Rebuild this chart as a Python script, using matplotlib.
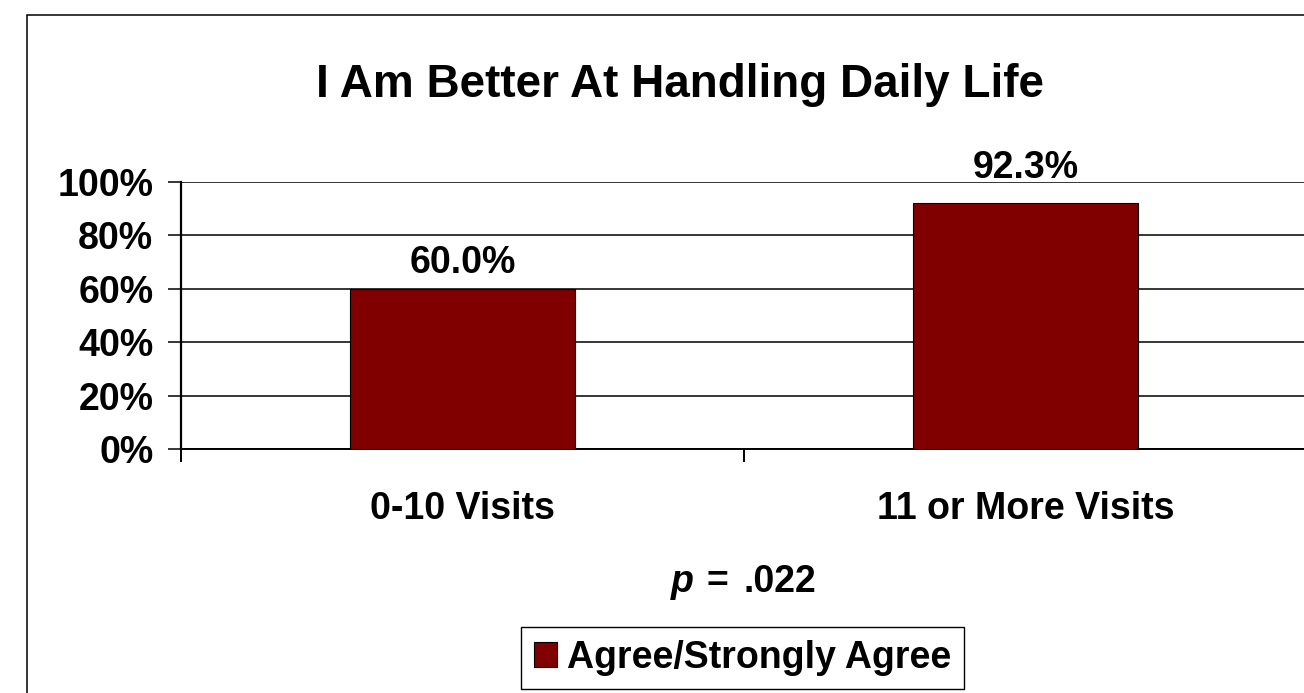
import matplotlib
matplotlib.use("Agg")
import matplotlib.pyplot as plt
from matplotlib.patches import Rectangle, Patch
from matplotlib.ticker import FixedLocator, PercentFormatter

# Survey results
categories = ["0-10 Visits", "11 or More Visits"]
agree_pct = [60.0, 92.3]
series_name = "Agree/Strongly Agree"
title = "I Am Better At Handling Daily Life"
p_value = ".022"
yticks = [0, 20, 40, 60, 80, 100]

BAR_COLOR = "#800000"
FONT = "Liberation Sans"
FS = 27

W, H = 1304, 693
fig = plt.figure(figsize=(W / 100, H / 100), dpi=100)
fig.patch.set_facecolor("white")

def fx(px):
    return px / W

def fy(py):
    return 1 - py / H

# Plot area
ax = fig.add_axes([fx(181), fy(449), fx(1307) - fx(181), (449 - 182) / H])
ax.set_facecolor("white")

x = list(range(len(categories)))
bars = ax.bar(x, agree_pct, width=0.4, color=BAR_COLOR, edgecolor="black",
              linewidth=0.8, zorder=3, label=series_name)

ax.set_xlim(-0.5, len(categories) - 0.5)
ax.set_ylim(0, 100)

# Horizontal gridlines
ax.set_yticks(yticks)
ax.yaxis.set_major_formatter(PercentFormatter(decimals=0))
ax.grid(axis="y", color="black", linewidth=1.1, zorder=1)
ax.set_axisbelow(True)

# Category boundaries as major ticks, labels on minor ticks at bar centres
ax.xaxis.set_major_locator(FixedLocator([i - 0.5 for i in range(len(categories) + 1)]))
ax.xaxis.set_major_formatter(plt.NullFormatter())
ax.xaxis.set_minor_locator(FixedLocator(x))
ax.set_xticklabels(categories, minor=True)

ax.tick_params(axis="x", which="major", direction="out", length=9.4, width=1.4, color="black")
ax.tick_params(axis="x", which="minor", length=0, pad=30)
ax.tick_params(axis="y", direction="out", length=9.4, width=1.1, pad=10.5)

for lbl in ax.get_xticklabels(minor=True) + ax.get_yticklabels():
    lbl.set_fontfamily(FONT)
    lbl.set_fontweight("bold")
    lbl.set_fontsize(FS)

for side in ("top", "right"):
    ax.spines[side].set_visible(False)
ax.spines["left"].set_linewidth(1.6)
ax.spines["bottom"].set_linewidth(1.4)

# Value labels above the bars
label_offsets = [16, 25]
for xi, v, off in zip(x, agree_pct, label_offsets):
    ax.annotate(f"{v:.1f}%", xy=(xi, v), xytext=(0, off), textcoords="offset pixels",
                ha="center", va="baseline", fontsize=FS, fontweight="bold",
                fontfamily=FONT, annotation_clip=False)

# Title
fig.text(fx(680), fy(97), title, ha="center", va="baseline",
         fontsize=33, fontweight="bold", fontfamily=FONT)

# Significance note
note_kw = dict(va="baseline", fontsize=FS, fontweight="bold", fontfamily=FONT)
fig.text(fx(694), fy(592), "p", ha="right", style="italic", **note_kw)
fig.text(fx(706), fy(592), "=", ha="left", **note_kw)
fig.text(fx(744), fy(592), p_value, ha="left", **note_kw)

# Legend
leg = fig.legend(handles=[Patch(facecolor=BAR_COLOR, edgecolor="black", linewidth=0.8)],
                 labels=[series_name], loc="center",
                 bbox_to_anchor=(fx(742.5), fy(658)),
                 prop={"family": FONT, "weight": "bold", "size": FS},
                 handlelength=0.62, handleheight=0.64, handletextpad=0.28,
                 borderpad=0.34, fancybox=False, framealpha=1)
leg.get_frame().set_edgecolor("black")
leg.get_frame().set_linewidth(1.0)

# Outer chart frame
fig.add_artist(Rectangle((fx(27), -0.1), 1.2, fy(14.5) + 0.1, transform=fig.transFigure,
                         fill=False, edgecolor="black", linewidth=1.1))

fig.savefig("out.png", dpi=100, facecolor="white")
